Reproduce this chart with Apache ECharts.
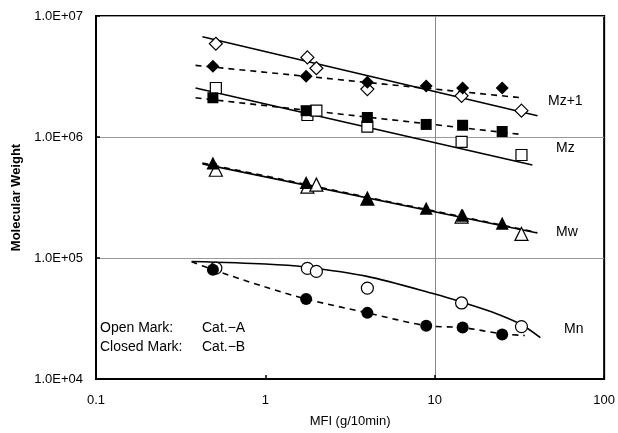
<!DOCTYPE html>
<html>
<head>
<meta charset="utf-8">
<script src="https://cdn.jsdelivr.net/npm/echarts@6/dist/echarts.min.js"></script>
<style>html,body{margin:0;padding:0;background:#fff;overflow:hidden}#c{width:618px;height:433px}</style>
</head>
<body>
<div id="c"></div>
<script>
// ---- data (MFI in g/10min, molecular weights) ----
const mfiA = [0.51, 1.77, 2.0, 4.0, 14.4, 32.5];   // open marks, Cat.-A
const mfiB = [0.49, 1.74, 4.0, 8.9, 14.6, 25];     // closed marks, Cat.-B
const mz1A = [5.9e6, 4.55e6, 3.7e6, 2.49e6, 2.19e6, 1.65e6];
const mz1B = [3.84e6, 3.18e6, 2.84e6, 2.64e6, 2.54e6, 2.54e6];
const mzA  = [2.54e6, 1.52e6, 1.65e6, 1.22e6, 9.1e5, 7.1e5];
const mzB  = [2.11e6, 1.65e6, 1.45e6, 1.27e6, 1.25e6, 1.11e6];
const mwA  = [5.36e5, 3.89e5, 4.04e5, 3.1e5, 2.2e5, 1.58e5];
const mwB  = [6.1e5, 4.2e5, 3.1e5, 2.58e5, 2.26e5, 1.94e5];
const mnA  = [8.25e4, 8.2e4, 7.75e4, 5.64e4, 4.25e4, 2.71e4];
const mnB  = [8.0e4, 4.58e4, 3.52e4, 2.76e4, 2.66e4, 2.33e4];

// trend lines
const fitMz1AX = [0.425, 40.4], fitMz1AY = [6.74e6, 1.50e6];
const fitMz1BX = [0.387, 32.5], fitMz1BY = [3.91e6, 2.11e6];
const fitMzAX  = [0.387, 37.7], fitMzAY  = [2.54e6, 5.88e5];
const fitMzBX  = [0.387, 32.5], fitMzBY  = [2.11e6, 1.05e6];
const fitMwAX  = [0.425, 40.4], fitMwAY  = [6.0e5, 1.61e5];
const fitMwBX  = [0.425, 40.0], fitMwBY  = [6.1e5, 1.63e5];
const fitMnAX  = [0.367, 1.0, 1.71, 3.98, 10, 14.4, 21.6, 32.5, 42];
const fitMnAY  = [9.35e4, 8.92e4, 8.43e4, 7.05e4, 5.04e4, 4.33e4, 3.59e4, 2.81e4, 2.2e4];
const fitMnBX  = [0.367, 0.49, 1.0, 1.74, 4.0, 8.9, 14.6, 25, 34];
const fitMnBY  = [9.3e4, 8.0e4, 5.75e4, 4.58e4, 3.52e4, 2.76e4, 2.66e4, 2.36e4, 2.29e4];

const xTickLabels = ['0.1', '1', '10', '100'];
const yTickLabels = ['1.0E+04', '1.0E+05', '1.0E+06', '1.0E+07'];
const seriesNames = ['Mz+1', 'Mz', 'Mw', 'Mn'];
const legendLines = [['Open Mark:', 'Cat.\u2212A'], ['Closed Mark:', 'Cat.\u2212B']];

// ---- build ----
const zip = (xs, ys) => xs.map((x, i) => [x, ys[i]]);
const FONT = '"Liberation Sans", Arial, sans-serif';

function scatter(xs, ys, symbol, size, open) {
  return {
    type: 'scatter', data: zip(xs, ys), symbol: symbol, symbolSize: size, z: open ? 4 : 5,
    itemStyle: open ? {color: '#fff', borderColor: '#000', borderWidth: 1.2, opacity: 1} : {color: '#000', opacity: 1},
    silent: true, animation: false
  };
}
function line(xs, ys, dashed, smooth) {
  return {
    type: 'line', data: zip(xs, ys), symbol: 'none', smooth: smooth || false, z: 3,
    lineStyle: {color: '#000', width: 1.6, type: dashed ? [6, 5] : 'solid'},
    silent: true, animation: false
  };
}

const series = [
  line(fitMz1AX, fitMz1AY, false), line(fitMz1BX, fitMz1BY, true),
  line(fitMzAX, fitMzAY, false),   line(fitMzBX, fitMzBY, true),
  line(fitMwAX, fitMwAY, false),   line(fitMwBX, fitMwBY, true),
  line(fitMnAX, fitMnAY, false, 0.3), line(fitMnBX, fitMnBY, true, 0.3),
  scatter(mfiA, mz1A, 'diamond', 13, true),  scatter(mfiB, mz1B, 'diamond', 13, false),
  scatter(mfiA, mzA, 'rect', 11, true),      scatter(mfiB, mzB, 'rect', 11, false),
  scatter(mfiA, mwA, 'triangle', 13, true),  scatter(mfiB, mwB, 'triangle', 13, false),
  scatter(mfiA, mnA, 'circle', 12, true),    scatter(mfiB, mnB, 'circle', 12, false)
];

const labelPos = [[548, 102], [556, 149], [556, 233], [564, 330]];
const graphic = seriesNames.map((t, i) => ({
  type: 'text', left: labelPos[i][0], top: labelPos[i][1] - 8,
  style: {text: t, font: '14px ' + FONT, fill: '#000'}
}));
legendLines.forEach((pair, i) => {
  graphic.push({type: 'text', left: 100, top: 321 + i * 19, style: {text: pair[0], font: '14px ' + FONT, fill: '#000'}});
  graphic.push({type: 'text', left: 202, top: 321 + i * 19, style: {text: pair[1], font: '14px ' + FONT, fill: '#000'}});
});

const chart = echarts.init(document.getElementById('c'), null, {renderer: 'canvas', width: 618, height: 433});
chart.setOption({
  backgroundColor: '#fff',
  animation: false,
  grid: {left: 96, right: 11, top: 16, bottom: 49, show: true, borderColor: '#000', borderWidth: 2, backgroundColor: 'transparent'},
  xAxis: {
    type: 'log', logBase: 10, min: 0.1, max: 100,
    name: 'MFI (g/10min)', nameLocation: 'middle', nameGap: 36,
    nameTextStyle: {fontFamily: FONT, fontSize: 13, color: '#000'},
    axisLine: {lineStyle: {color: '#000', width: 2}},
    axisTick: {inside: true, length: 4, lineStyle: {color: '#000', width: 1.5}},
    axisLabel: {margin: 15, fontFamily: FONT, fontSize: 13, color: '#000',
      formatter: v => xTickLabels[Math.round(Math.log10(v)) + 1]},
    splitLine: {show: true, lineStyle: {color: ['rgba(0,0,0,0)', 'rgba(0,0,0,0)', '#888', 'rgba(0,0,0,0)'], width: 1}}
  },
  yAxis: {
    type: 'log', logBase: 10, min: 1e4, max: 1e7,
    name: 'Molecular Weight', nameLocation: 'middle', nameGap: 70,
    nameTextStyle: {fontFamily: FONT, fontSize: 13, fontWeight: 'bold', color: '#000'},
    axisLine: {lineStyle: {color: '#000', width: 2}},
    axisTick: {inside: true, length: 4, lineStyle: {color: '#000', width: 1.5}},
    axisLabel: {margin: 13, fontFamily: FONT, fontSize: 13, color: '#000',
      formatter: v => yTickLabels[Math.round(Math.log10(v)) - 4]},
    splitLine: {show: true, lineStyle: {color: '#999', width: 1}}
  },
  series: series,
  graphic: graphic
});
</script>
</body>
</html>
